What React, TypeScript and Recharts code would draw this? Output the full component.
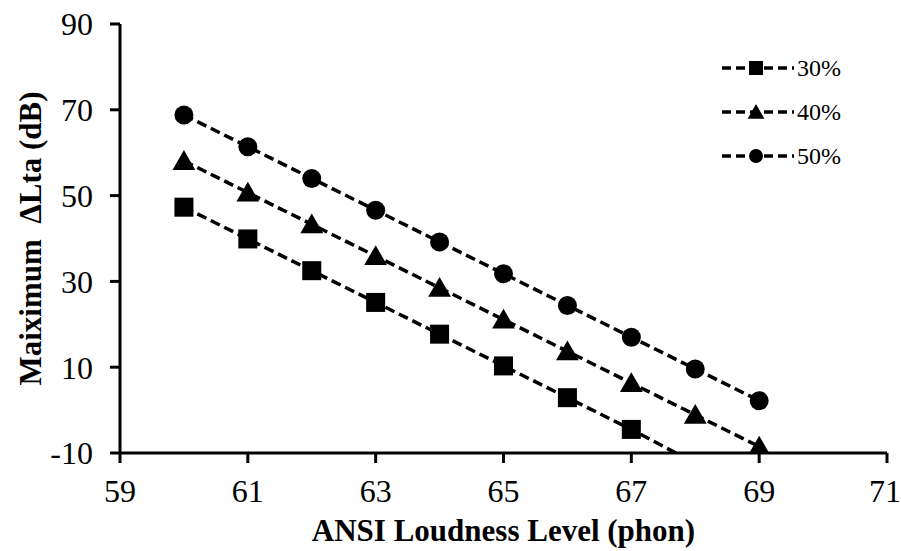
import React from 'react';
import { LineChart, Line, XAxis, YAxis, Label } from 'recharts';

const loudness = [60, 61, 62, 63, 64, 65, 66, 67, 68, 69];
const max30 = [47.3, 39.9, 32.5, 25.1, 17.7, 10.3, 2.9, -4.5, -12.4, -19.8];
const max40 = [58.1, 50.7, 43.3, 35.9, 28.5, 21.1, 13.7, 6.3, -1.1, -8.5];
const max50 = [68.8, 61.4, 54.0, 46.6, 39.2, 31.8, 24.4, 17.0, 9.6, 2.2];
const xTicks = [59, 61, 63, 65, 67, 69, 71];
const yTicks = [-10, 10, 30, 50, 70, 90];

const FONT = '"Liberation Serif", "Times New Roman", serif';

const data = loudness.map((x, i) => ({ x, s30: max30[i], s40: max40[i], s50: max50[i] }));

type Shape = 'square' | 'triangle' | 'circle';

const series: { key: string; name: string; shape: Shape }[] = [
  { key: 's30', name: '30%', shape: 'square' },
  { key: 's40', name: '40%', shape: 'triangle' },
  { key: 's50', name: '50%', shape: 'circle' },
];

const Marker = ({ shape, cx, cy, size }: { shape: Shape; cx: number; cy: number; size: number }) => {
  const h = size / 2;
  if (shape === 'square') return <rect x={cx - h} y={cy - h} width={size} height={size} fill="#000" />;
  if (shape === 'circle') return <circle cx={cx} cy={cy} r={h} fill="#000" />;
  const w = size * 1.2;
  return (
    <polygon
      points={`${cx},${cy - h * 1.15} ${cx - w / 2},${cy + h * 0.95} ${cx + w / 2},${cy + h * 0.95}`}
      fill="#000"
    />
  );
};

const makeDot = (shape: Shape) => (props: any) => {
  const { cx, cy, index } = props;
  if (cx == null || cy == null) return <g key={index} />;
  return (
    <g key={`${shape}-${index}`}>
      <Marker shape={shape} cx={cx} cy={cy} size={19} />
    </g>
  );
};

// legend drawn as an overlay so it doesn't eat plot height
const LegendBox = () => (
  <div style={{ position: 'absolute', left: 720, top: 46, fontFamily: FONT, fontSize: 24, color: '#000' }}>
    {series.map((s) => (
      <div key={s.key} style={{ display: 'flex', alignItems: 'center', height: 44 }}>
        <svg width={76} height={24}>
          <line x1={2} y1={12} x2={74} y2={12} stroke="#000" strokeWidth={3.5} strokeDasharray="9 5" />
          <Marker shape={s.shape} cx={36} cy={12} size={14} />
        </svg>
        <span style={{ marginLeft: 1 }}>{s.name}</span>
      </div>
    ))}
  </div>
);

export default function App() {
  const tick = { fill: '#000', fontSize: 32, fontFamily: FONT };
  return (
    <div style={{ position: 'absolute', left: 0, top: 0, width: 901, height: 551, background: '#fff' }}>
      <LineChart width={901} height={551} data={data} margin={{ top: 24, right: 14, left: 40, bottom: 38 }}>
        <XAxis
          dataKey="x"
          type="number"
          domain={[59, 71]}
          ticks={xTicks}
          allowDataOverflow
          tick={tick}
          tickSize={10}
          tickMargin={16}
          height={60}
          stroke="#000"
          strokeWidth={3}
        >
          <Label
            value="ANSI Loudness Level (phon)"
            position="bottom"
            offset={6}
            style={{ fill: '#000', fontSize: 31, fontWeight: 'bold', fontFamily: FONT }}
          />
        </XAxis>
        <XAxis xAxisId="top" orientation="top" type="number" domain={[59, 71]} tick={false} tickLine={false} height={0} stroke="#000" strokeWidth={3} />
        <YAxis
          type="number"
          domain={[-10, 90]}
          ticks={yTicks}
          allowDataOverflow
          tick={tick}
          tickSize={10}
          tickMargin={17}
          width={80}
          stroke="#000"
          strokeWidth={3}
        >
          <Label
            value={'Maiximum\u00A0 ΔLta (dB)'}
            angle={-90}
            position="insideLeft"
            offset={-10}
            style={{ fill: '#000', fontSize: 31, fontWeight: 'bold', fontFamily: FONT, textAnchor: 'middle' }}
          />
        </YAxis>
        <YAxis yAxisId="right" orientation="right" tick={false} tickLine={false} width={0} stroke="#000" strokeWidth={3} />
        {series.map((s) => (
          <Line
            key={s.key}
            dataKey={s.key}
            name={s.name}
            stroke="#000"
            strokeWidth={3.5}
            strokeDasharray="10 5"
            dot={makeDot(s.shape)}
            activeDot={false}
            isAnimationActive={false}
          />
        ))}
      </LineChart>
      <LegendBox />
    </div>
  );
}
